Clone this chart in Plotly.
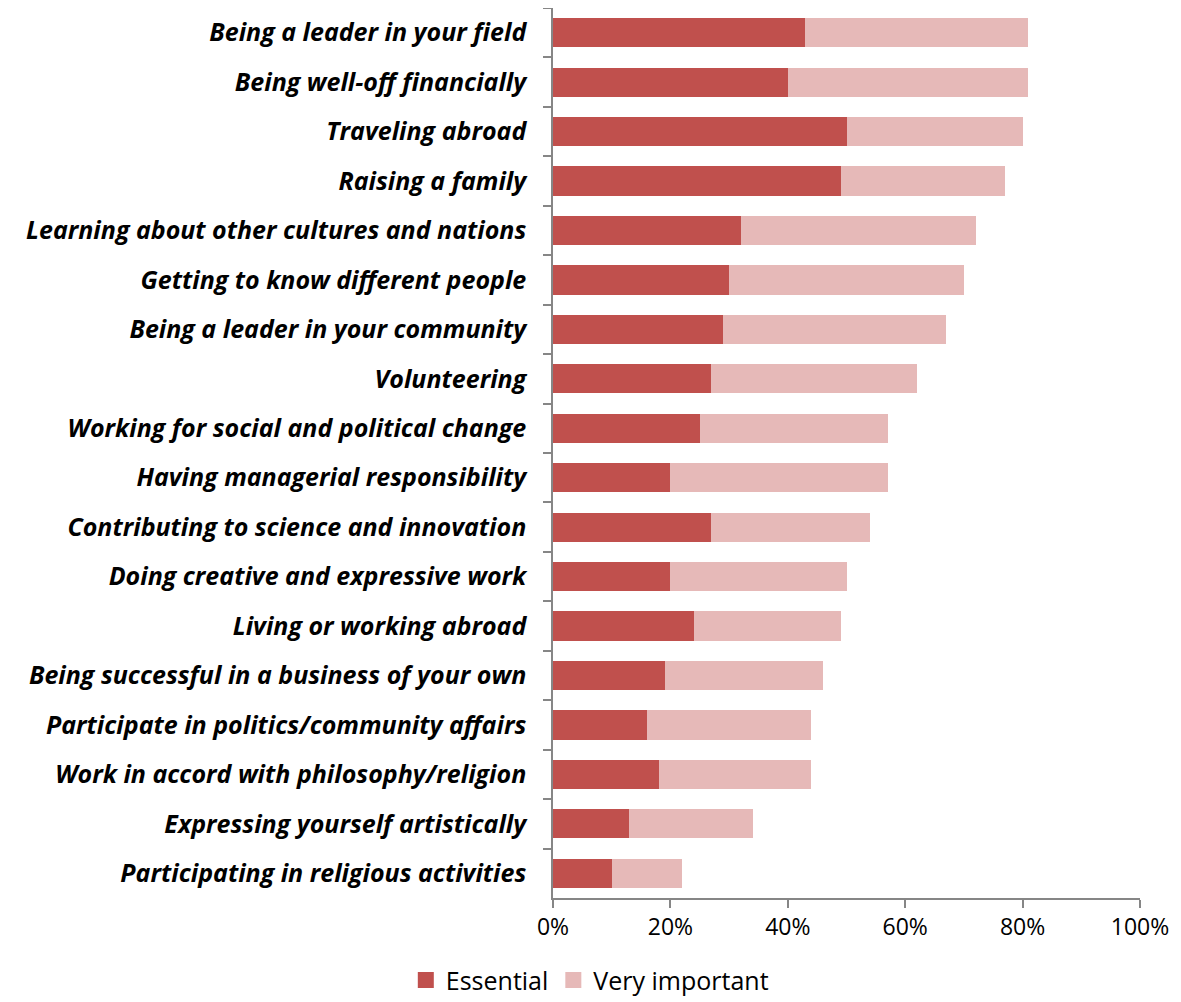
import plotly.graph_objects as go

categories = [
    "Being a leader in your field",
    "Being well-off financially",
    "Traveling abroad",
    "Raising a family",
    "Learning about other cultures and nations",
    "Getting to know different people",
    "Being a leader in your community",
    "Volunteering",
    "Working for social and political change",
    "Having managerial responsibility",
    "Contributing to science and innovation",
    "Doing creative and expressive work",
    "Living or working abroad",
    "Being successful in a business of your own",
    "Participate in politics/community affairs",
    "Work in accord with philosophy/religion",
    "Expressing yourself artistically",
    "Participating in religious activities",
]
essential = [43, 40, 50, 49, 32, 30, 29, 27, 25, 20, 27, 20, 24, 19, 16, 18, 13, 10]
very_important = [38, 41, 30, 28, 40, 40, 38, 35, 32, 37, 27, 30, 25, 27, 28, 26, 21, 12]
x_ticks = [0, 20, 40, 60, 80, 100]
x_tick_labels = ["0%", "20%", "40%", "60%", "80%", "100%"]

series_names = ["Essential", "Very important"]
series_colors = ["#C0504D", "#E6B9B8"]

labels_html = ["<b><i>" + c + "</i></b>" for c in categories]

fig = go.Figure()
for name, vals, col in zip(series_names, [essential, very_important], series_colors):
    fig.add_trace(go.Bar(
        y=labels_html, x=vals, orientation="h", name=name,
        marker=dict(color=col, line=dict(width=0)),
        showlegend=False,
    ))
# legend proxies with larger square symbols
for name, col in zip(series_names, series_colors):
    fig.add_trace(go.Scatter(
        x=[None], y=[None], mode="markers", name=name,
        marker=dict(symbol="square", size=18, color=col),
        showlegend=True,
    ))

fig.update_layout(
    barmode="stack",
    bargap=0.41,
    width=1173, height=994,
    margin=dict(l=545, r=41, t=0, b=104),
    paper_bgcolor="white", plot_bgcolor="white",
    font=dict(family="Open Sans", size=22, color="black"),
    legend=dict(
        orientation="h", xref="container", yref="container",
        x=0.496, xanchor="center", y=0.022, yanchor="middle",
        font=dict(size=25, family="Open Sans"), traceorder="normal",
        itemwidth=30,
    ),
    xaxis=dict(
        range=[0, 100], tickvals=x_ticks, ticktext=x_tick_labels,
        showgrid=False, zeroline=False,
        showline=True, linecolor="#868686", linewidth=1.5,
        ticks="outside", ticklen=8, tickcolor="#868686", tickwidth=1.5,
        tickfont=dict(size=23, family="Open Sans"),
    ),
    yaxis=dict(
        type="category", range=[17.5, -0.5],
        tickson="boundaries",
        showgrid=False, zeroline=False,
        showline=True, linecolor="#868686", linewidth=1.5,
        ticks="outside", ticklen=8, tickcolor="#868686", tickwidth=1.5,
        tickfont=dict(size=25, family="Open Sans"),
        ticklabelstandoff=20,
    ),
)

fig.write_html("out.html")
